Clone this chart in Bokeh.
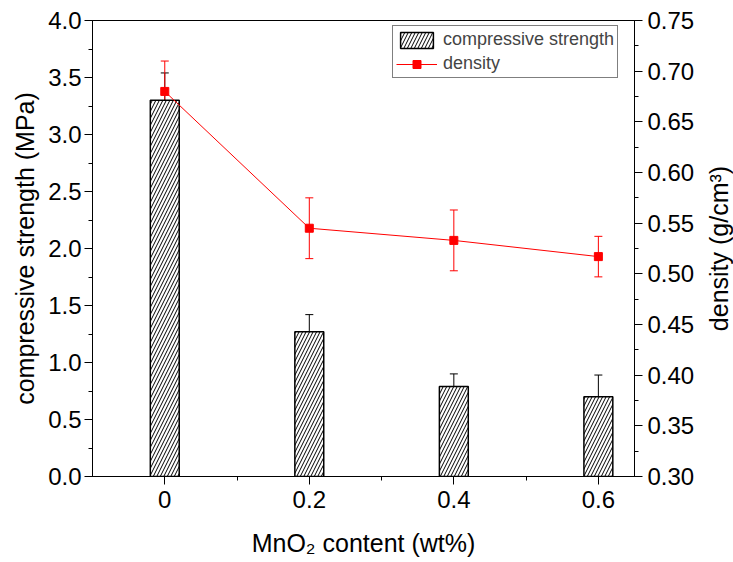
from bokeh.plotting import figure
from bokeh.layouts import row
from bokeh.models import (Range1d, LinearAxis, SingleIntervalTicker, FixedTicker,
                          NumeralTickFormatter, Whisker, ColumnDataSource, Legend,
                          LegendItem, TeeHead)
from bokeh.embed import file_html
from bokeh.resources import INLINE

mno2 = [0, 0.2, 0.4, 0.6]
x_tick_labels = ["0", "0.2", "0.4", "0.6"]
x_minor = [0.1, 0.3, 0.5]
strength = [3.30, 1.27, 0.79, 0.70]
strength_err = [0.24, 0.15, 0.11, 0.19]
density = [0.680, 0.545, 0.533, 0.517]
density_err = [0.030, 0.030, 0.030, 0.020]

FONT = "Liberation Sans"

src = ColumnDataSource(dict(
    x=mno2, s=strength,
    s_up=[a + b for a, b in zip(strength, strength_err)],
    s_lo=[a - b for a, b in zip(strength, strength_err)],
    d=density,
    d_up=[a + b for a, b in zip(density, density_err)],
    d_lo=[a - b for a, b in zip(density, density_err)],
))

p = figure(width=700, height=562, x_range=Range1d(-0.1, 0.65), y_range=Range1d(0, 4),
           output_backend="svg", toolbar_location=None,
           min_border_left=92, min_border_right=66, min_border_top=20, min_border_bottom=86)
p.extra_y_ranges = {"density": Range1d(0.30, 0.75)}

p.xgrid.visible = False
p.ygrid.visible = False
p.outline_line_color = "black"
p.outline_line_width = 1
p.background_fill_color = "white"
p.border_fill_color = "white"

bars = p.vbar(x="x", top="s", width=0.04, source=src, fill_color="white",
              line_color="black", line_width=1.5, hatch_pattern="/",
              hatch_color="black", hatch_scale=7, hatch_weight=1)
p.add_layout(Whisker(base="x", upper="s_up", lower="s_lo", source=src,
                     line_color="black", line_width=1,
                     upper_head=TeeHead(size=8, line_color="black", line_width=1),
                     lower_head=TeeHead(size=8, line_color="black", line_width=1)))

dline = p.line(x="x", y="d", source=src, color="red", line_width=1, y_range_name="density")
p.add_layout(Whisker(base="x", upper="d_up", lower="d_lo", source=src, y_range_name="density",
                     line_color="red", line_width=1,
                     upper_head=TeeHead(size=8, line_color="red", line_width=1),
                     lower_head=TeeHead(size=8, line_color="red", line_width=1)))
dpts = p.scatter(x="x", y="d", source=src, marker="square", size=8, color="red",
                 y_range_name="density")

# axes
xa = p.xaxis[0]
xa.ticker = FixedTicker(ticks=mno2, minor_ticks=x_minor)
xa.major_label_overrides = {v: t for v, t in zip(mno2, x_tick_labels)}
xa.axis_label = "MnO₂ content (wt%)"

ya = p.yaxis[0]
ya.ticker = SingleIntervalTicker(interval=0.5, num_minor_ticks=2)
ya.formatter = NumeralTickFormatter(format="0.0")
ya.axis_label = "compressive strength (MPa)"

ra = LinearAxis(y_range_name="density",
                ticker=SingleIntervalTicker(interval=0.05, num_minor_ticks=2),
                formatter=NumeralTickFormatter(format="0.00"))
p.add_layout(ra, "right")

for ax in (xa, ya, ra):
    ax.axis_line_color = "black"
    ax.major_tick_line_color = "black"
    ax.minor_tick_line_color = "black"
    ax.major_tick_in = 0
    ax.major_tick_out = 8
    ax.minor_tick_in = 0
    ax.minor_tick_out = 4
    ax.major_label_text_font = FONT
    ax.major_label_text_font_size = "24px"
    ax.major_label_text_color = "black"
    ax.axis_label_text_font = FONT
    ax.axis_label_text_font_size = "25px"
    ax.axis_label_text_font_style = "normal"
    ax.axis_label_text_color = "black"

xa.major_label_standoff = 6
xa.axis_label_standoff = 18
ya.major_label_standoff = 3
ya.axis_label_standoff = 6
ra.major_label_standoff = 5

legend = Legend(items=[LegendItem(label="compressive strength", renderers=[bars]),
                       LegendItem(label="density", renderers=[dline, dpts])],
                location=(300, 398), margin=0,
                border_line_color="black", border_line_width=1,
                label_text_font=FONT, label_text_font_size="18px",
                label_height=20, glyph_width=41, glyph_height=20, spacing=3, padding=3,
                label_standoff=6, background_fill_alpha=1)
p.add_layout(legend)

# narrow companion strip carrying the right-hand axis title (reads bottom-to-top)
p2 = figure(width=33, height=562, x_range=Range1d(0, 1), y_range=Range1d(0.30, 0.75),
            output_backend="svg", toolbar_location=None,
            min_border_left=32, min_border_right=0, min_border_top=20, min_border_bottom=86)
p2.xaxis.visible = False
p2.xgrid.visible = False
p2.ygrid.visible = False
p2.outline_line_color = None
p2.border_fill_color = "white"
p2.background_fill_color = "white"
ta = p2.yaxis[0]
ta.ticker = FixedTicker(ticks=[])
ta.axis_line_color = None
ta.major_tick_line_color = None
ta.minor_tick_line_color = None
ta.axis_label = "density (g/cm³)"
ta.axis_label_text_font = FONT
ta.axis_label_text_font_size = "25px"
ta.axis_label_text_font_style = "normal"
ta.axis_label_text_color = "black"
ta.axis_label_standoff = 0

layout = row(p, p2, spacing=0)
open("out.html", "w").write(file_html(layout, INLINE))
